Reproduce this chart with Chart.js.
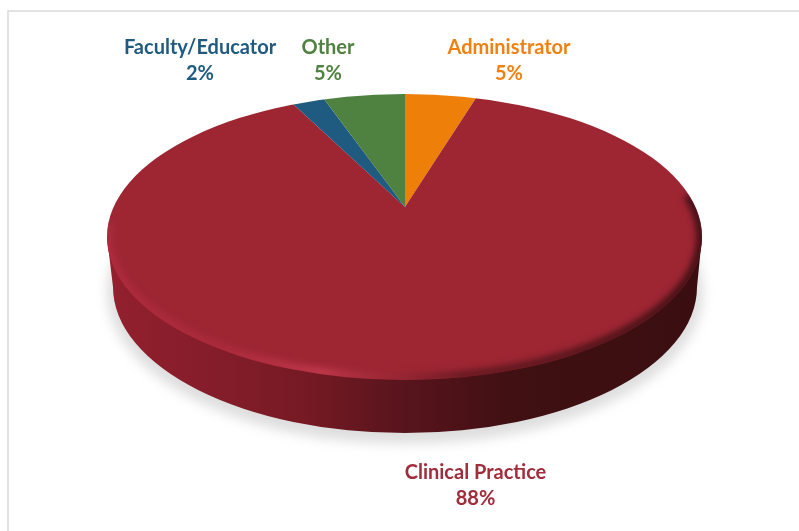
<!DOCTYPE html>
<html><head><meta charset="utf-8">
<script src="https://cdn.jsdelivr.net/npm/chart.js@4/dist/chart.umd.min.js"></script>
<style>html,body{margin:0;padding:0;background:#fff}canvas{display:block}</style>
</head><body><canvas id="c" width="799" height="531"></canvas>
<script>
const categories = ["Administrator", "Clinical Practice", "Faculty/Educator", "Other"];
const percentages = [5, 88, 2, 5];
const sliceColors = ["#ee7f09", "#9e2633", "#1f5a80", "#4f8240"];
const labelColors = ["#f08010", "#a02c3c", "#1f5a80", "#4f8240"];
const labelCenters = [[509, 48], [475.5, 473], [200, 48], [328, 48]];

const APEX = {x: 405, y: 207};
const TOP = {x: 404.5, y: 237, rx: 297.5, ry: 143};
const BASE = {x: 405, y: 287, rx: 292, ry: 146};

function topPath(ctx) {
  ctx.beginPath();
  ctx.ellipse(TOP.x, TOP.y, TOP.rx, TOP.ry, 0, 0, Math.PI * 2);
}

const pie3d = {
  id: "pie3d",
  beforeDraw(chart) {
    const ctx = chart.ctx;
    ctx.save();
    ctx.fillStyle = "#fff";
    ctx.fillRect(0, 0, chart.width, chart.height);
    ctx.strokeStyle = "#dcdcdc";
    ctx.lineWidth = 1.6;
    ctx.strokeRect(8, 11, 1000, 1000);
    ctx.restore();
  },
  beforeDatasetDraw(chart, args) {
    const ctx = chart.ctx;
    const arcs = args.meta.data;

    // soft floor shadow
    ctx.save();
    ctx.filter = "blur(6px)";
    ctx.fillStyle = "#dedede";
    ctx.beginPath();
    ctx.ellipse(BASE.x, BASE.y + 5, BASE.rx + 6, BASE.ry + 6, 0, 0, Math.PI * 2);
    ctx.fill();
    ctx.restore();

    // side wall
    ctx.save();
    const g = ctx.createLinearGradient(TOP.x - TOP.rx, 0, TOP.x + TOP.rx, 0);
    g.addColorStop(0, "#93202f");
    g.addColorStop(0.16, "#861d2a");
    g.addColorStop(0.33, "#761a24");
    g.addColorStop(0.5, "#58141c");
    g.addColorStop(0.68, "#401012");
    g.addColorStop(1, "#3a0e11");
    ctx.fillStyle = g;
    ctx.beginPath();
    ctx.moveTo(TOP.x - TOP.rx, TOP.y);
    ctx.lineTo(BASE.x - BASE.rx, BASE.y);
    ctx.ellipse(BASE.x, BASE.y, BASE.rx, BASE.ry, 0, Math.PI, 0, true);
    ctx.lineTo(TOP.x + TOP.rx, TOP.y);
    ctx.closePath();
    ctx.fill();
    ctx.restore();

    // top face: library arcs, squashed about the apex
    [[0, APEX.x, 0.433], [APEX.x, 799 - APEX.x, 0.499]].forEach(([cx, cw, s]) => {
      ctx.save();
      topPath(ctx);
      ctx.clip();
      ctx.beginPath();
      ctx.rect(cx, 0, cw, 531);
      ctx.clip();
      ctx.translate(APEX.x, APEX.y);
      ctx.scale(1, s);
      ctx.translate(-APEX.x, -APEX.y);
      arcs.forEach(a => a.draw(ctx));
      ctx.restore();
    });

    // bevel
    ctx.save();
    topPath(ctx);
    ctx.clip();
    ctx.filter = "blur(3.5px)";
    const r = ctx.createLinearGradient(TOP.x - TOP.rx, 0, TOP.x + TOP.rx, 0);
    r.addColorStop(0, "rgba(190,48,72,.6)");
    r.addColorStop(0.18, "rgba(180,46,68,.65)");
    r.addColorStop(0.36, "rgba(205,62,85,.85)");
    r.addColorStop(0.48, "rgba(150,40,55,.65)");
    r.addColorStop(0.6, "rgba(80,20,26,.8)");
    r.addColorStop(1, "rgba(50,12,16,1)");
    ctx.strokeStyle = r;
    ctx.lineWidth = 8;
    ctx.beginPath();
    ctx.ellipse(TOP.x, TOP.y, TOP.rx - 1, TOP.ry - 2, 0, -0.3, Math.PI * 1.03);
    ctx.stroke();
    ctx.restore();
    return false;
  },
  afterDraw(chart) {
    const ctx = chart.ctx;
    ctx.save();
    ctx.font = "bold 20px Lato";
    ctx.textAlign = "center";
    ctx.textBaseline = "middle";
    categories.forEach((name, i) => {
      ctx.fillStyle = labelColors[i];
      ctx.fillText(name, labelCenters[i][0], labelCenters[i][1]);
      ctx.fillText(percentages[i] + "%", labelCenters[i][0], labelCenters[i][1] + 26);
    });
    ctx.restore();
  }
};

new Chart(document.getElementById("c"), {
  type: "pie",
  data: {
    labels: categories,
    datasets: [{data: percentages, backgroundColor: sliceColors, borderWidth: 0, radius: 800}]
  },
  options: {
    responsive: false,
    animation: false,
    layout: {padding: {left: 11, top: 0, right: 0, bottom: 117}},
    plugins: {legend: {display: false}, tooltip: {enabled: false}}
  },
  plugins: [pie3d]
});
</script></body></html>
